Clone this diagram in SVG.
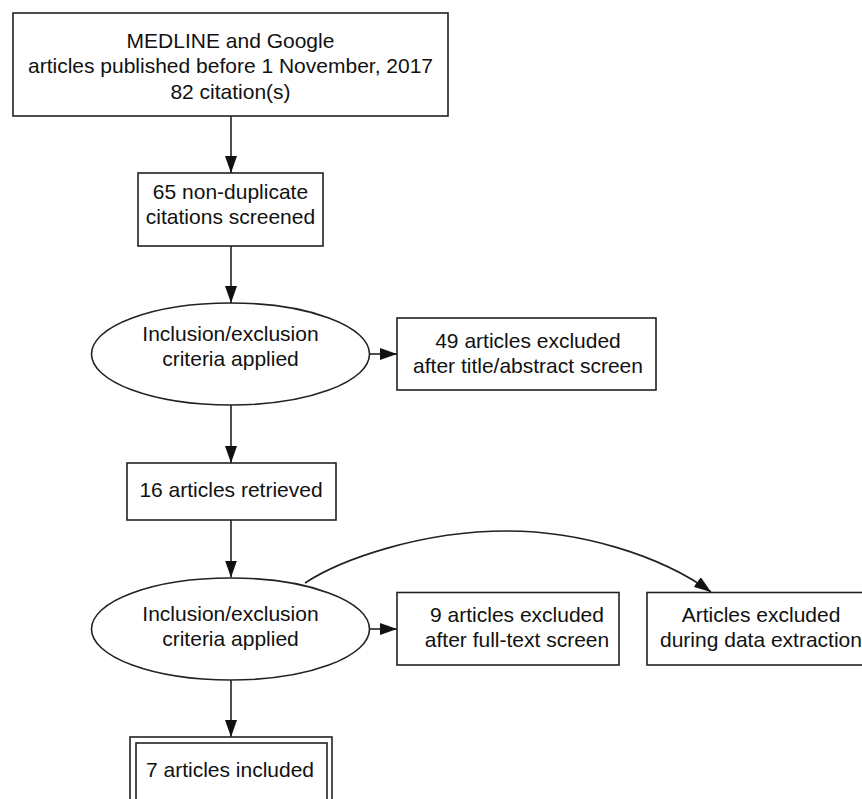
<svg xmlns="http://www.w3.org/2000/svg" width="862" height="799" viewBox="0 0 862 799">
  <style>
    .box { fill: #ffffff; stroke: #222222; stroke-width: 1.6; }
    .edge { fill: none; stroke: #222222; stroke-width: 1.6; }
    text { font-family: "Liberation Sans", Arial, sans-serif; font-size: 21px; fill: #111111; text-anchor: middle; }
  </style>
  <defs>
    <marker id="arrow" markerUnits="userSpaceOnUse" markerWidth="17" markerHeight="12" refX="17" refY="6" orient="auto">
      <path d="M0,0 L17,6 L0,12 z" fill="#111111"/>
    </marker>
  </defs>
  <rect width="862" height="799" fill="#ffffff"/>

  <g id="connectors">
    <path class="edge" d="M231,116 V173" marker-end="url(#arrow)"/>
    <path class="edge" d="M231,246 V303" marker-end="url(#arrow)"/>
    <path class="edge" d="M369,354 H397" marker-end="url(#arrow)"/>
    <path class="edge" d="M231,405 V463" marker-end="url(#arrow)"/>
    <path class="edge" d="M231,520 V577.5" marker-end="url(#arrow)"/>
    <path class="edge" d="M369,629 H397" marker-end="url(#arrow)"/>
    <path class="edge" d="M305,583 C340,560 420,531 507,531 C580,531 660,555 711,592" marker-end="url(#arrow)"/>
    <path class="edge" d="M231,680 V737" marker-end="url(#arrow)"/>
  </g>

  <g id="node-source">
    <rect class="box" x="13" y="13" width="435" height="103"/>
    <text x="230.5" y="48">MEDLINE and Google</text>
    <text x="230.5" y="73">articles published before 1 November, 2017</text>
    <text x="230.5" y="99">82 citation(s)</text>
  </g>

  <g id="node-screened">
    <rect class="box" x="138" y="173" width="185" height="73"/>
    <text x="230.5" y="199">65 non-duplicate</text>
    <text x="230.5" y="224">citations screened</text>
  </g>

  <g id="node-criteria1">
    <ellipse class="box" cx="230.5" cy="354" rx="139" ry="51"/>
    <text x="230.5" y="341">Inclusion/exclusion</text>
    <text x="230.5" y="366">criteria applied</text>
  </g>

  <g id="node-excluded-title">
    <rect class="box" x="397" y="318" width="259" height="72"/>
    <text x="528" y="348">49 articles excluded</text>
    <text x="528" y="373">after title/abstract screen</text>
  </g>

  <g id="node-retrieved">
    <rect class="box" x="127" y="463" width="209" height="57"/>
    <text x="231" y="497">16 articles retrieved</text>
  </g>

  <g id="node-criteria2">
    <ellipse class="box" cx="230.5" cy="629" rx="139" ry="51"/>
    <text x="230.5" y="621">Inclusion/exclusion</text>
    <text x="230.5" y="646">criteria applied</text>
  </g>

  <g id="node-excluded-fulltext">
    <rect class="box" x="397" y="592.5" width="222" height="72.5"/>
    <text x="517" y="622">9 articles excluded</text>
    <text x="517" y="647">after full-text screen</text>
  </g>

  <g id="node-excluded-extraction">
    <rect class="box" x="647" y="592.5" width="230" height="72.5"/>
    <text x="761" y="622">Articles excluded</text>
    <text x="761" y="647">during data extraction</text>
  </g>

  <g id="node-included">
    <rect class="box" x="130" y="737" width="202" height="80"/>
    <rect class="box" x="136" y="743" width="191" height="68"/>
    <text x="230" y="777">7 articles included</text>
  </g>
</svg>
